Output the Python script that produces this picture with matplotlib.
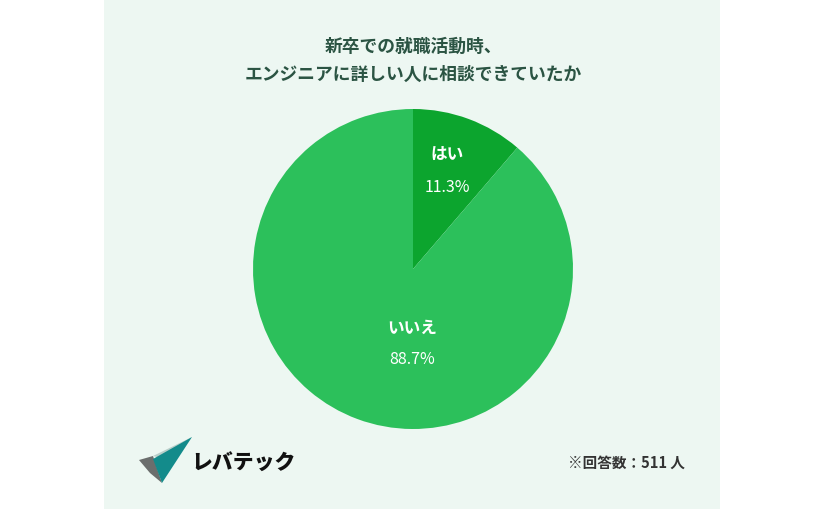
import matplotlib
matplotlib.use('Agg')
import matplotlib.pyplot as plt
from matplotlib.patches import Rectangle, Polygon

plt.rcParams['font.family'] = ['Noto Sans CJK JP', 'DejaVu Sans']

# Données
categories = ['はい', 'いいえ']
values = [11.3, 88.7]
colors = ['#0ca52e', '#2cc05b']
title_lines = ['新卒での就職活動時、', 'エンジニアに詳しい人に相談できていたか']
note = '※回答数：511 人'

W, H = 825, 510
fig = plt.figure(figsize=(W / 100, H / 100), dpi=100)
fig.patch.set_facecolor('white')

# Fond (coordonnées en pixels)
bg = fig.add_axes([0, 0, 1, 1], zorder=0)
bg.set_xlim(0, W)
bg.set_ylim(H, 0)
bg.axis('off')
bg.add_patch(Rectangle((104, 0), 616, H, color='#edf7f2', lw=0))

title_color = '#2b5443'
bg.text(413, 47, title_lines[0], ha='center', va='center', fontsize=12.8,
        fontweight='bold', color=title_color)
bg.text(413, 75, title_lines[1], ha='center', va='center', fontsize=12.8,
        fontweight='bold', color=title_color)

# Logo
bg.add_patch(Polygon([(139, 461), (153, 457), (162, 484), (150, 474)], color='#6b6e6d', lw=0))
bg.add_patch(Polygon([(153, 457), (192, 438), (165, 460)], color='#b9cfca', lw=0))
bg.add_patch(Polygon([(153, 460), (192, 438), (162, 484)], color='#138b8b', lw=0))
bg.text(191, 464, 'レバテック', ha='left', va='center', fontsize=15,
        fontweight='black', color='#111111')

bg.text(568, 463, note, ha='left', va='center', fontsize=10.5,
        fontweight='bold', color='#333333')

# Camembert
cx, cy, r = 413, 270, 160
ax = fig.add_axes([(cx - r) / W, (H - cy - r) / H, 2 * r / W, 2 * r / H], zorder=1)
ax.pie(values, colors=colors, startangle=90, counterclock=False,
       wedgeprops=dict(linewidth=0))
ax.set_xlim(-1, 1)
ax.set_ylim(-1, 1)
ax.axis('off')

# Étiquettes
label_pos = [(34 / r, 115 / r), (-1 / r, -58 / r)]
for cat, val, (x, y) in zip(categories, values, label_pos):
    ax.text(x, y, cat, ha='center', va='center', fontsize=12,
            fontweight='bold', color='white')
    ax.text(x, y - 32 / r, f'{val:.1f}%', ha='center', va='center',
            fontsize=11.5, color='white')

fig.savefig('out.png', dpi=100, facecolor=fig.get_facecolor())
